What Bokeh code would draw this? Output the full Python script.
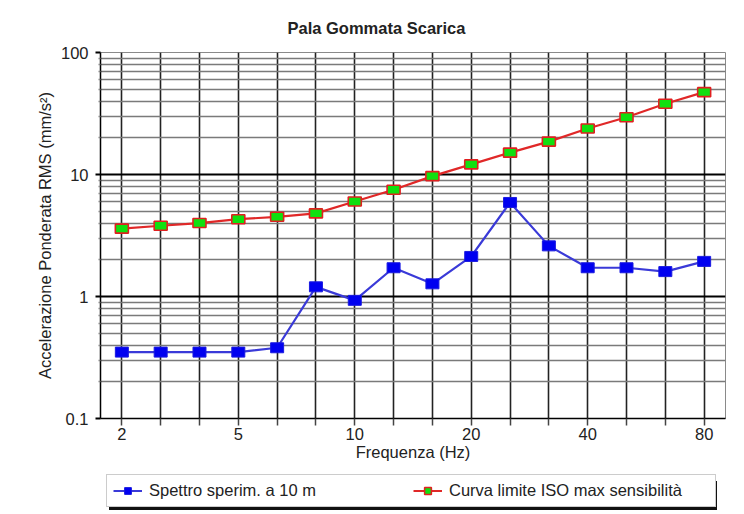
from bokeh.plotting import figure
from bokeh.models import (FixedTicker, Legend, LegendItem, ColumnDataSource, Range1d)
from bokeh.layouts import column
from bokeh.embed import file_html
from bokeh.resources import INLINE

# ---------------- data ----------------
band_index = list(range(16))
tick_positions = [0, 3, 6, 9, 12, 15]
tick_texts = ["2", "5", "10", "20", "40", "80"]

spettro = [0.35, 0.35, 0.35, 0.35, 0.38, 1.2, 0.93, 1.72, 1.27, 2.13,
           5.9, 2.6, 1.72, 1.72, 1.6, 1.94]
curva_iso = [3.6, 3.8, 4.0, 4.3, 4.5, 4.8, 6.0, 7.5, 9.7, 12.1,
             15.1, 18.6, 23.8, 29.5, 38.0, 47.3]

y_major = [0.1, 1, 10, 100]
y_major_texts = ["0.1", "1", "10", "100"]
y_minor = [0.2, 0.3, 0.4, 0.5, 0.6, 0.7, 0.8, 0.9,
           2, 3, 4, 5, 6, 7, 8, 9,
           20, 30, 40, 50, 60, 70, 80, 90]

title_text = "Pala Gommata Scarica"
x_title = "Frequenza (Hz)"
y_title = "Accelerazione Ponderata RMS (mm/s\u00b2)"
name_spettro = "Spettro sperim. a 10 m"
name_iso = "Curva limite ISO max sensibilit\u00e0"

FONT = "Liberation Sans"
FS = "16.5px"
TXT = "#222222"

BLUE_LINE, BLUE_FILL, BLUE_EDGE = "#3a3ad8", "#0000f0", "#1a1ae0"
RED_LINE, GREEN_FILL, RED_EDGE = "#e02828", "#10e010", "#e02020"

p = figure(width=728, height=466, output_backend="svg", toolbar_location=None,
           y_axis_type="log", x_range=Range1d(-0.55, 15.55),
           y_range=Range1d(0.1, 100),
           min_border_left=100, min_border_right=3, min_border_top=52,
           min_border_bottom=48)

p.title.text = title_text
p.title.text_font = FONT
p.title.text_font_size = FS
p.title.text_font_style = "bold"
p.title.text_color = TXT
p.title.align = "left"
p.title.offset = 187
p.title.standoff = 31

p.outline_line_color = "#8a8a8a"
p.outline_line_width = 1

# x axis
p.xaxis.ticker = FixedTicker(ticks=band_index)
overrides = {i: "" for i in band_index}
overrides.update({t: s for t, s in zip(tick_positions, tick_texts)})
p.xaxis.major_label_overrides = overrides
p.xaxis.minor_tick_line_color = None
p.xaxis.major_tick_out = 7
p.xaxis.major_tick_in = 0
p.xaxis.major_tick_line_color = "#444444"
p.xaxis.major_tick_line_width = 1.5
p.xaxis.axis_line_color = "black"
p.xaxis.axis_line_width = 1.5
p.xaxis.major_label_standoff = 2
p.xaxis.axis_label = x_title
p.xaxis.axis_label_standoff = 0

# y axis
p.yaxis.ticker = FixedTicker(ticks=y_major, minor_ticks=y_minor)
p.yaxis.major_label_overrides = {t: s for t, s in zip(y_major, y_major_texts)}
p.yaxis.major_tick_out = 5
p.yaxis.major_tick_in = 0
p.yaxis.minor_tick_out = 2
p.yaxis.minor_tick_in = 0
p.yaxis.major_tick_line_color = "black"
p.yaxis.major_tick_line_width = 2
p.yaxis.minor_tick_line_color = "#888888"
p.yaxis.minor_tick_line_width = 1.5
p.yaxis.axis_line_color = "black"
p.yaxis.axis_line_width = 1.5
p.yaxis.major_label_standoff = 7
p.yaxis.axis_label = y_title
p.yaxis.axis_label_standoff = 4

for ax in (p.xaxis, p.yaxis):
    ax.major_label_text_font = FONT
    ax.major_label_text_font_size = FS
    ax.major_label_text_color = TXT
    ax.axis_label_text_font = FONT
    ax.axis_label_text_font_size = FS
    ax.axis_label_text_font_style = "normal"
    ax.axis_label_text_color = TXT

# grids
p.xgrid.grid_line_color = "#222222"
p.xgrid.grid_line_width = 1.6
p.ygrid.grid_line_color = "black"
p.ygrid.grid_line_width = 2
p.ygrid.minor_grid_line_color = "#7a7a7a"
p.ygrid.minor_grid_line_width = 1.5

# series
src_b = ColumnDataSource(dict(x=band_index, y=spettro))
src_r = ColumnDataSource(dict(x=band_index, y=curva_iso))

p.line("x", "y", source=src_b, line_color=BLUE_LINE, line_width=2.2)
p.rect("x", "y", source=src_b, width=13, height=10, width_units="screen",
       height_units="screen", fill_color=BLUE_FILL, line_color=BLUE_EDGE,
       line_width=1)

p.line("x", "y", source=src_r, line_color=RED_LINE, line_width=2.2)
p.rect("x", "y", source=src_r, width=13, height=9, width_units="screen",
       height_units="screen", fill_color=GREEN_FILL, line_color=RED_EDGE,
       line_width=1.6)

# ---------------- legend strip ----------------
# the same data sources feed the legend glyphs, but the ranges keep them off-view
q = figure(width=728, height=44, output_backend="svg", toolbar_location=None,
           x_range=Range1d(1000, 1001), y_range=Range1d(1000, 1001),
           min_border_left=0, min_border_right=0, min_border_top=0,
           min_border_bottom=0, x_axis_location=None, y_axis_location=None)
q.grid.visible = False
q.outline_line_color = None

lb = q.line("x", "y", source=src_b, line_color=BLUE_LINE, line_width=2)
mb = q.scatter("x", "y", source=src_b, marker="square", size=10,
               fill_color=BLUE_FILL, line_color=BLUE_EDGE)
lr = q.line("x", "y", source=src_r, line_color=RED_LINE, line_width=2)
mr = q.scatter("x", "y", source=src_r, marker="square", size=10,
               fill_color=GREEN_FILL, line_color=RED_EDGE, line_width=1.5)


def make_legend(shadow=False):
    if shadow:
        items = [LegendItem(label=" ", renderers=[lb]),
                 LegendItem(label=" ", renderers=[lr])]
    else:
        items = [LegendItem(label=name_spettro, renderers=[lb, mb]),
                 LegendItem(label=name_iso, renderers=[lr, mr])]
    lg = Legend(items=items, orientation="horizontal",
                location=(9, 0) if shadow else (6, 3),
                padding=6, margin=0, spacing=4, label_width=260,
                glyph_width=29, glyph_height=17, label_height=17,
                label_standoff=7,
                label_text_font=FONT, label_text_font_size=FS,
                label_text_color=TXT)
    if shadow:
        lg.background_fill_color = "#111111"
        lg.background_fill_alpha = 1
        lg.border_line_alpha = 0
        lg.label_text_alpha = 0
    else:
        lg.background_fill_color = "white"
        lg.background_fill_alpha = 1
        lg.border_line_color = "#9a9a9a"
        lg.border_line_width = 1
    return lg


q.add_layout(make_legend(shadow=True), "center")
q.add_layout(make_legend(shadow=False), "center")

layout = column(p, q, spacing=0)
open("out.html", "w").write(file_html(layout, INLINE))
